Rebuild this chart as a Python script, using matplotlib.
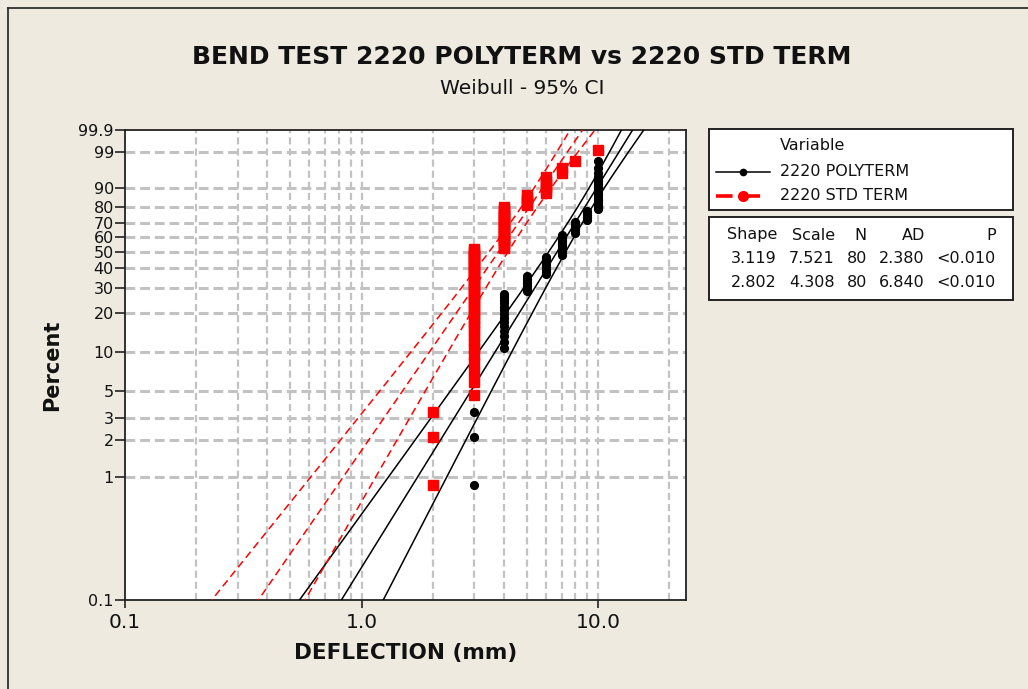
import numpy as np
import matplotlib
matplotlib.use("Agg")
import matplotlib.pyplot as plt
from matplotlib.lines import Line2D
from matplotlib.patches import Rectangle
from matplotlib.ticker import FixedLocator, FixedFormatter, NullLocator

# ---------------- data ----------------
title = "BEND TEST 2220 POLYTERM vs 2220 STD TERM"
subtitle = "Weibull - 95% CI"
series_names = ["2220 POLYTERM", "2220 STD TERM"]

poly_values = [3, 4, 5, 6, 7, 8, 9, 10]          # deflection (mm)
poly_counts = [8, 14, 7, 9, 12, 7, 6, 17]         # observations at each value
std_values = [2, 3, 4, 5, 6, 7, 8, 10]
std_counts = [3, 39, 23, 5, 6, 2, 1, 1]

shape = [3.119, 2.802]
scale = [7.521, 4.308]
n_obs = [80, 80]
ad_stat = ["2.380", "6.840"]
p_text = ["<0.010", "<0.010"]
table_header = ["Shape", "Scale", "N", "AD", "P"]

y_ticks = [0.1, 1, 2, 3, 5, 10, 20, 30, 40, 50, 60, 70, 80, 90, 99, 99.9]
y_tick_labels = ["0.1", "1", "2", "3", "5", "10", "20", "30", "40", "50",
                 "60", "70", "80", "90", "99", "99.9"]
y_grid = [1, 2, 3, 5, 10, 20, 30, 40, 50, 60, 70, 80, 90, 99]
x_ticks = [0.1, 1.0, 10.0]
x_tick_labels = ["0.1", "1.0", "10.0"]
x_grid = [0.2, 0.3, 0.4, 0.5, 0.6, 0.7, 0.8, 0.9, 1, 2, 3, 4, 5, 6, 7, 8, 9, 10, 20]
x_limits = (0.1, 23.5)
y_limits = (0.1, 99.9)

# ---------------- layout ----------------
W, H = 1028, 689
BG = "#EEEAE0"
GRID = "#C2C2C2"

def fx(px):
    return px / W

def fy(py):
    return 1 - py / H

fig = plt.figure(figsize=(W / 100, H / 100), dpi=100)
fig.patch.set_facecolor(BG)

# outer border (top-left visible)
fig.add_artist(Line2D([fx(8), fx(8)], [fy(8), fy(700)], transform=fig.transFigure,
                      color="#303030", lw=1.3))
fig.add_artist(Line2D([fx(8), fx(1040)], [fy(8), fy(8)], transform=fig.transFigure,
                      color="#303030", lw=1.3))

ax = fig.add_axes([fx(125), fy(600), fx(686) - fx(125), fy(130) - fy(600)])
ax.set_facecolor("white")

def fwd(p):
    p = np.clip(np.asarray(p, dtype=float), 1e-9, 100 - 1e-9)
    return np.log(-np.log(1 - p / 100.0))

def inv(w):
    return 100.0 * (1 - np.exp(-np.exp(np.asarray(w, dtype=float))))

ax.set_xscale("log")
ax.set_yscale("function", functions=(fwd, inv))
ax.set_xlim(*x_limits)
ax.set_ylim(*y_limits)

# grid
for g in y_grid:
    ax.axhline(g, color=GRID, lw=2.2, ls=(0, (3.2, 1.6)), zorder=1)
for g in x_grid:
    ax.axvline(g, color=GRID, lw=1.6, ls=(0, (3.2, 1.8)), zorder=1)

# fitted lines and 95% CI (Weibull ML, asymptotic variance of log-percentile)
z = 1.96
wmin, wmax = fwd(y_limits[0]), fwd(y_limits[1])
w = np.linspace(wmin - 0.1, wmax + 0.1, 300)
p_line = inv(w)
styles = [dict(color="black", lw=1.1, ls="-"),
          dict(color="#FF0000", lw=1.1, ls=(0, (5, 3)))]
for k in range(2):
    sigma = 1.0 / shape[k]
    mu = np.log(scale[k])
    lx = mu + sigma * w
    q = 1.1087 - 2 * 0.2570 * w + 0.6079 * w ** 2
    h = z * sigma * np.sqrt(q / n_obs[k])
    for off in (-h, 0, h):
        ax.plot(np.exp(lx + off), p_line, zorder=3, **styles[k])

# data points with median ranks (Benard)
def plot_positions(values, counts):
    xs = np.repeat(values, counts).astype(float)
    n = len(xs)
    i = np.arange(1, n + 1)
    return xs, (i - 0.3) / (n + 0.4) * 100

xb, pb = plot_positions(poly_values, poly_counts)
xr, pr = plot_positions(std_values, std_counts)
ax.plot(xb, pb, ls="none", marker="o", ms=5.6, color="black", mec="black", zorder=4)
ax.plot(xr, pr, ls="none", marker="s", ms=6.5, color="#FF0000", mec="#FF0000", zorder=5)

# ticks
ax.yaxis.set_major_locator(FixedLocator(y_ticks))
ax.yaxis.set_major_formatter(FixedFormatter(y_tick_labels))
ax.yaxis.set_minor_locator(NullLocator())
ax.xaxis.set_major_locator(FixedLocator(x_ticks))
ax.xaxis.set_major_formatter(FixedFormatter(x_tick_labels))
ax.xaxis.set_minor_locator(NullLocator())
ax.tick_params(axis="y", length=7, width=1.2, pad=1, labelsize=11.5, color="#222222",
               labelcolor="#111111")
ax.tick_params(axis="x", length=6, width=1.2, pad=3, labelsize=14.5, color="#222222",
               labelcolor="#111111")
for s in ax.spines.values():
    s.set_color("#222222")
    s.set_linewidth(1.3)

# titles
fig.text(fx(522), fy(57), title, ha="center", va="center", fontsize=18,
         fontweight="bold", color="#111111")
fig.text(fx(522), fy(88), subtitle, ha="center", va="center", fontsize=14.5,
         color="#111111")
fig.text(fx(406), fy(653), "DEFLECTION (mm)", ha="center", va="center",
         fontsize=15.5, fontweight="bold", color="#111111")
fig.text(fx(52), fy(365), "Percent", ha="center", va="center", rotation=90,
         fontsize=15, fontweight="bold", color="#111111")

# legend box
for (x0, y0, x1, y1) in [(709, 129.5, 1012.5, 210.5), (709, 216.5, 1012.5, 299.5)]:
    fig.add_artist(Rectangle((fx(x0), fy(y1)), fx(x1) - fx(x0), fy(y0) - fy(y1),
                             transform=fig.transFigure, facecolor="white",
                             edgecolor="#222222", lw=1.4))
lfs = 11.5
fig.text(fx(780), fy(146), "Variable", ha="left", va="center", fontsize=lfs, color="#111111")
fig.text(fx(780), fy(171.5), series_names[0], ha="left", va="center", fontsize=lfs, color="#111111")
fig.text(fx(780), fy(196), series_names[1], ha="left", va="center", fontsize=lfs, color="#111111")
fig.add_artist(Line2D([fx(716), fx(770)], [fy(171.5), fy(171.5)], transform=fig.transFigure,
                      color="black", lw=1.1))
fig.add_artist(Line2D([fx(743)], [fy(171.5)], transform=fig.transFigure, ls="none",
                      marker="o", ms=4.5, color="black"))
fig.add_artist(Line2D([fx(716), fx(770)], [fy(196), fy(196)], transform=fig.transFigure,
                      color="#FF0000", lw=2.6, ls=(0, (4.6, 3.0))))
fig.add_artist(Line2D([fx(743)], [fy(196)], transform=fig.transFigure, ls="none",
                      marker="o", ms=7, color="#FF0000"))

# statistics table
col_right = [777, 835, 867, 925, 996]
rows = [table_header,
        [f"{shape[0]:.3f}", f"{scale[0]:.3f}", str(n_obs[0]), ad_stat[0], p_text[0]],
        [f"{shape[1]:.3f}", f"{scale[1]:.3f}", str(n_obs[1]), ad_stat[1], p_text[1]]]
row_y = [235, 258.5, 282.5]
for r, yy in zip(rows, row_y):
    for txt, xr_ in zip(r, col_right):
        fig.text(fx(xr_), fy(yy), txt, ha="right", va="center", fontsize=lfs, color="#111111")

fig.savefig("out.png", dpi=100, facecolor=BG)
